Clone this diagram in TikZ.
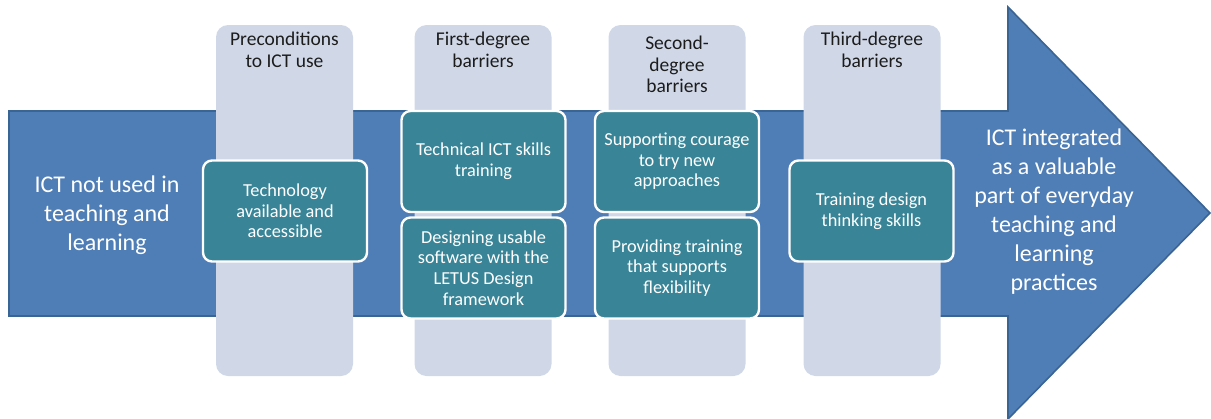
\documentclass[tikz,border=0pt]{standalone}
\usepackage{fontspec}
\setmainfont{Carlito}
\begin{document}
\begin{tikzpicture}[x=1pt,y=-1pt,
  arrowfill/.style={fill=arrowblue,draw=arrowedge,line width=1.6pt,line join=miter},
  column/.style={fill=colgray,draw=none,rounded corners=12pt,minimum width=137pt,minimum height=351pt,inner sep=0pt},
  header/.style={anchor=north,align=center,text=headtext,font=\fontsize{19.5}{21.5}\selectfont,inner sep=0pt},
  tealbox/.style={fill=teal,draw=white,line width=2.4pt,rounded corners=9pt,minimum width=164pt,minimum height=101pt,inner sep=2pt,align=center,text=white,font=\fontsize{18.3}{20.6}\selectfont},
  bigtext/.style={align=center,text=white,font=\fontsize{24}{29}\selectfont,inner sep=0pt}]
\definecolor{arrowblue}{HTML}{4F7EB7}
\definecolor{arrowedge}{HTML}{3A6494}
\definecolor{colgray}{HTML}{D0D8E8}
\definecolor{teal}{HTML}{398597}
\definecolor{headtext}{HTML}{1C1C1C}
\useasboundingbox (0,0) rectangle (1211,418);
% main progress arrow
\draw[arrowfill] (9,111) -- (1008,111) -- (1008,7) -- (1210,213) -- (1008,419) -- (1008,316) -- (9,316) -- cycle;
% stage columns
\node[column] (c1) at (284.5,200.5) {};
\node[column] (c2) at (483,200.5) {};
\node[column] (c3) at (677,200.5) {};
\node[column] (c4) at (872,200.5) {};
% column headings
\node[header] (h1) at (284.5,32) {Preconditions\\to ICT use};
\node[header] (h2) at (483,32) {First-degree\\barriers};
\node[header] (h3) at (677,36) {Second-\\degree\\barriers};
\node[header] (h4) at (872,32) {Third-degree\\barriers};
% measures per stage
\node[tealbox] (t1) at (285,211) {Technology\\available and\\accessible};
\node[tealbox] (t2a) at (483.5,161.5) {Technical ICT skills\\training};
\node[tealbox] (t2b) at (483.5,268) {Designing usable\\software with the\\LETUS Design\\framework};
\node[tealbox] (t3a) at (677,161.5) {Supporting courage\\to try new\\approaches};
\node[tealbox] (t3b) at (677,268) {Providing training\\that supports\\flexibility};
\node[tealbox] (t4) at (871.5,211) {Training design\\thinking skills};
% start and end states
\node[bigtext] (start) at (107,215) {ICT not used in\\teaching and\\learning};
\node[bigtext] (goal) at (1054,212) {ICT integrated\\as a valuable\\part of everyday\\teaching and\\learning\\practices};
\end{tikzpicture}
\end{document}
